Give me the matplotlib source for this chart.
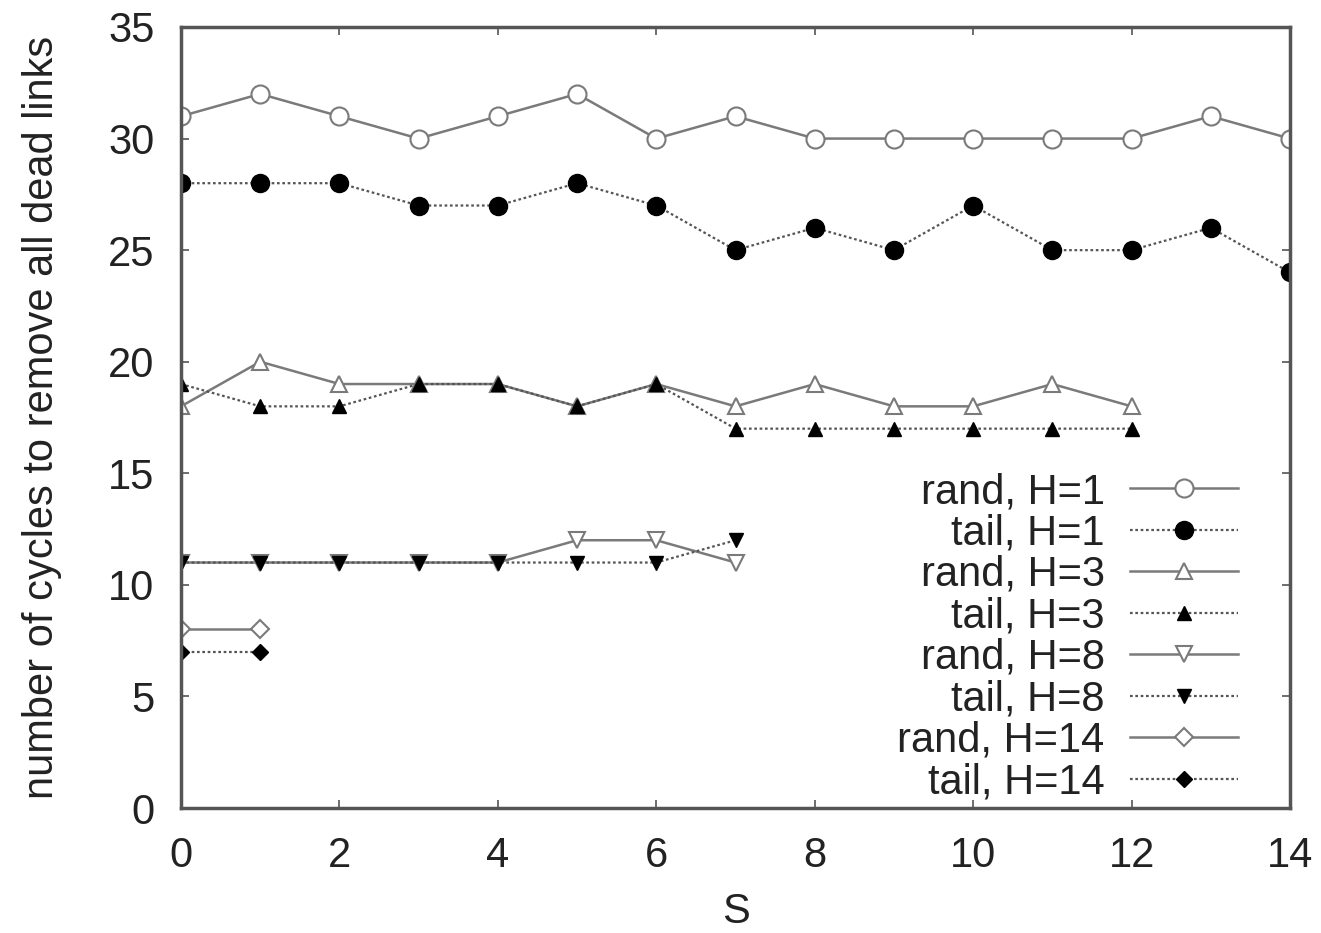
import matplotlib
matplotlib.use("Agg")
import matplotlib.pyplot as plt

plt.rcParams['font.family'] = ['Liberation Sans', 'DejaVu Sans']

s_h1 = list(range(15))
rand_h1 = [31, 32, 31, 30, 31, 32, 30, 31, 30, 30, 30, 30, 30, 31, 30]
tail_h1 = [28, 28, 28, 27, 27, 28, 27, 25, 26, 25, 27, 25, 25, 26, 24]
s_h3 = list(range(13))
rand_h3 = [18, 20, 19, 19, 19, 18, 19, 18, 19, 18, 18, 19, 18]
tail_h3 = [19, 18, 18, 19, 19, 18, 19, 17, 17, 17, 17, 17, 17]
s_h8 = list(range(8))
rand_h8 = [11, 11, 11, 11, 11, 12, 12, 11]
tail_h8 = [11, 11, 11, 11, 11, 11, 11, 12]
s_h14 = [0, 1]
rand_h14 = [8, 8]
tail_h14 = [7, 7]

labels = ["rand, H=1", "tail, H=1", "rand, H=3", "tail, H=3",
          "rand, H=8", "tail, H=8", "rand, H=14", "tail, H=14"]
x_ticks = [0, 2, 4, 6, 8, 10, 12, 14]
y_ticks = [0, 5, 10, 15, 20, 25, 30, 35]

fig = plt.figure(figsize=(13.21, 9.33), dpi=100)
ax = fig.add_axes([181/1321, 1 - 808/933, (1290-181)/1321, (808-27)/933])

gray = '#7a7a7a'
rand_kw = dict(color=gray, linestyle='-', linewidth=1.8, markerfacecolor='white',
               markeredgecolor=gray, markeredgewidth=1.5)
tail_kw = dict(color='#555555', linestyle=(0, (1.2, 1.2)), linewidth=1.6,
               markerfacecolor='black', markeredgecolor='black')

ax.plot(s_h1, rand_h1, marker='o', markersize=13, label=labels[0], **rand_kw)
ax.plot(s_h1, tail_h1, marker='o', markersize=13, label=labels[1], **tail_kw)
ax.plot(s_h3, rand_h3, marker='^', markersize=12, label=labels[2], **rand_kw)
ax.plot(s_h3, tail_h3, marker='^', markersize=10, label=labels[3], **tail_kw)
ax.plot(s_h8, rand_h8, marker='v', markersize=12, label=labels[4], **rand_kw)
ax.plot(s_h8, tail_h8, marker='v', markersize=10, label=labels[5], **tail_kw)
ax.plot(s_h14, rand_h14, marker='D', markersize=9, label=labels[6], **rand_kw)
ax.plot(s_h14, tail_h14, marker='D', markersize=8, label=labels[7], **tail_kw)

ax.set_xlim(0, 14)
ax.set_ylim(0, 35)
ax.set_xticks(x_ticks)
ax.set_yticks(y_ticks)
ax.tick_params(direction='in', length=6, width=1.2, colors='#555555',
               labelcolor='#222222', labelsize=30, top=True, right=True)
ax.tick_params(axis='y', pad=19)
ax.tick_params(axis='x', pad=20)
for sp in ax.spines.values():
    sp.set_linewidth(2.5)
    sp.set_color('#555555')

ax.set_xlabel('S', fontsize=30, color='#222222', labelpad=12)
ax.set_ylabel('number of cycles to remove all dead links', fontsize=30,
              color='#222222', labelpad=33)

leg = ax.legend(loc='lower right', frameon=False, markerfirst=False,
                fontsize=30, handlelength=2.6, labelspacing=0.035,
                handletextpad=0.6, borderaxespad=0.0,
                bbox_to_anchor=(0.968, -0.014))
for t in leg.get_texts():
    t.set_color('#222222')

fig.savefig('out.png', dpi=100)
